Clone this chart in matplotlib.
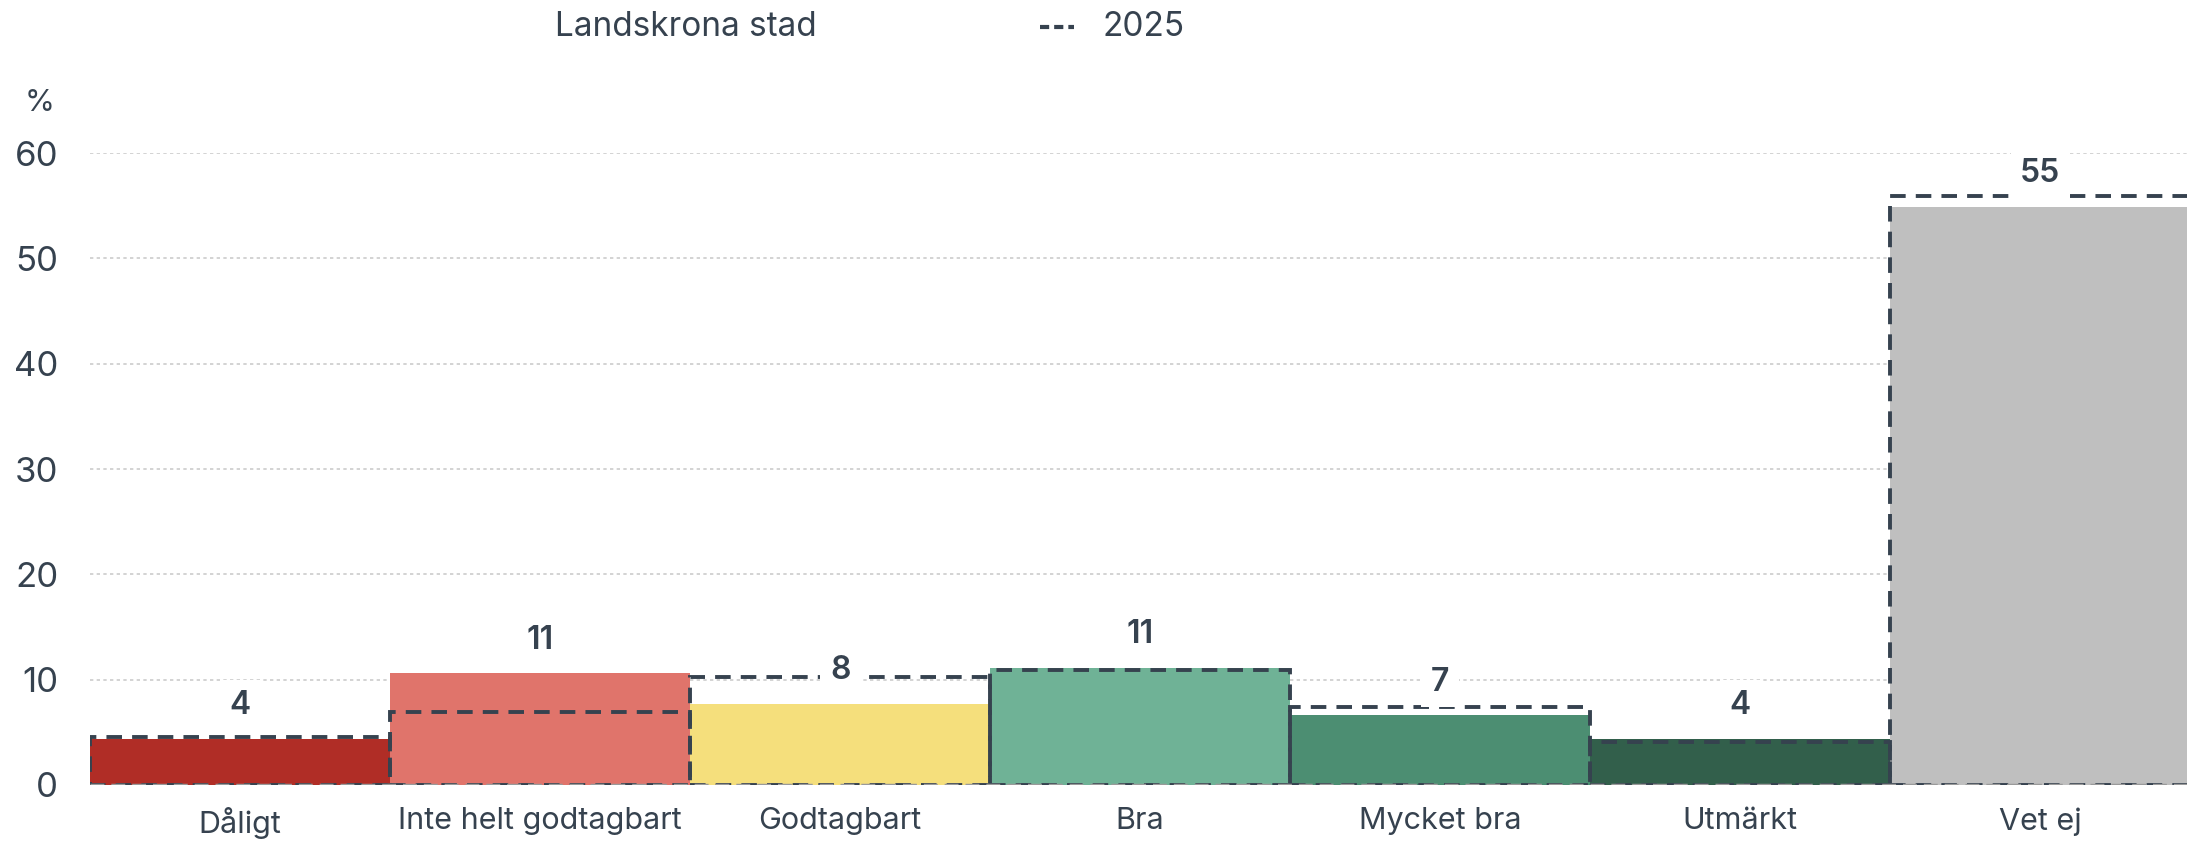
import matplotlib
matplotlib.use("Agg")
from matplotlib import pyplot as plt
from matplotlib.lines import Line2D
import numpy as np

plt.rcParams['font.family'] = ['Inter', 'DejaVu Sans']

categories = ["Dåligt", "Inte helt godtagbart", "Godtagbart", "Bra",
              "Mycket bra", "Utmärkt", "Vet ej"]
values_city = [4.4, 10.6, 7.7, 11.1, 6.6, 4.4, 54.9]
values_2025 = [4.6, 6.9, 10.3, 10.9, 7.4, 4.1, 55.9]
labels = ["4", "11", "8", "11", "7", "4", "55"]
bar_colors = ["#b02d26", "#e0746b", "#f5df7c", "#6fb296",
              "#4c8e72", "#325f4b", "#bfbfbf"]
yticks = [0, 10, 20, 30, 40, 50, 60]

text_color = "#36424f"

fig = plt.figure(figsize=(21.87, 8.42), dpi=100)
# right edge of the plot sits just past the canvas, like the reference
ax = fig.add_axes([0.0412, 0.0677, 0.9603, 0.7505])

x = np.arange(len(categories))

# filled bars for Landskrona stad
ax.bar(x, values_city, width=1.0, color=bar_colors, zorder=2)

# dashed outline for 2025
ax.bar(x, values_2025, width=1.0, fill=False, edgecolor=text_color,
       linewidth=2.8, linestyle=(0, (4, 2.6)), zorder=3)

# baseline
ax.axhline(0, color="#9a9a9a", linewidth=2.5, linestyle=(0, (4, 2)), zorder=4)

# data labels
for xi, v, lab in zip(x, values_city, labels):
    ax.annotate(lab, (xi, v), xytext=(0, 24), textcoords="offset points",
                ha="center", va="center", fontsize=23, fontweight="semibold",
                color=text_color, zorder=6,
                bbox=dict(boxstyle="square,pad=0.3", fc="white", ec="none"))

ax.set_xlim(-0.5, len(categories) - 0.5)
ax.set_ylim(0, 60)
ax.set_yticks(yticks)
ax.set_xticks(x)
ax.set_xticklabels(categories)
ax.tick_params(axis="x", length=0, pad=16, labelsize=22, labelcolor=text_color)
ax.tick_params(axis="y", length=0, pad=23, labelsize=25, labelcolor=text_color)

ax.yaxis.grid(True, color="#cccccc", linestyle=(0, (2, 2)), linewidth=1.2)
ax.set_axisbelow(True)
for s in ax.spines.values():
    s.set_visible(False)

fig.text(0.0180, 0.878, "%", fontsize=22, color=text_color, ha="center", va="center")

# legend
fig.text(0.2538, 0.968, "Landskrona stad", fontsize=24, color=text_color,
         ha="left", va="center")
fig.add_artist(Line2D([0.4755, 0.4913], [0.968, 0.968], color=text_color,
                      linewidth=3, linestyle=(0, (2.2, 1.2)),
                      transform=fig.transFigure))
fig.text(0.5043, 0.968, "2025", fontsize=24, color=text_color,
         ha="left", va="center")

fig.savefig("out.png", dpi=100)
